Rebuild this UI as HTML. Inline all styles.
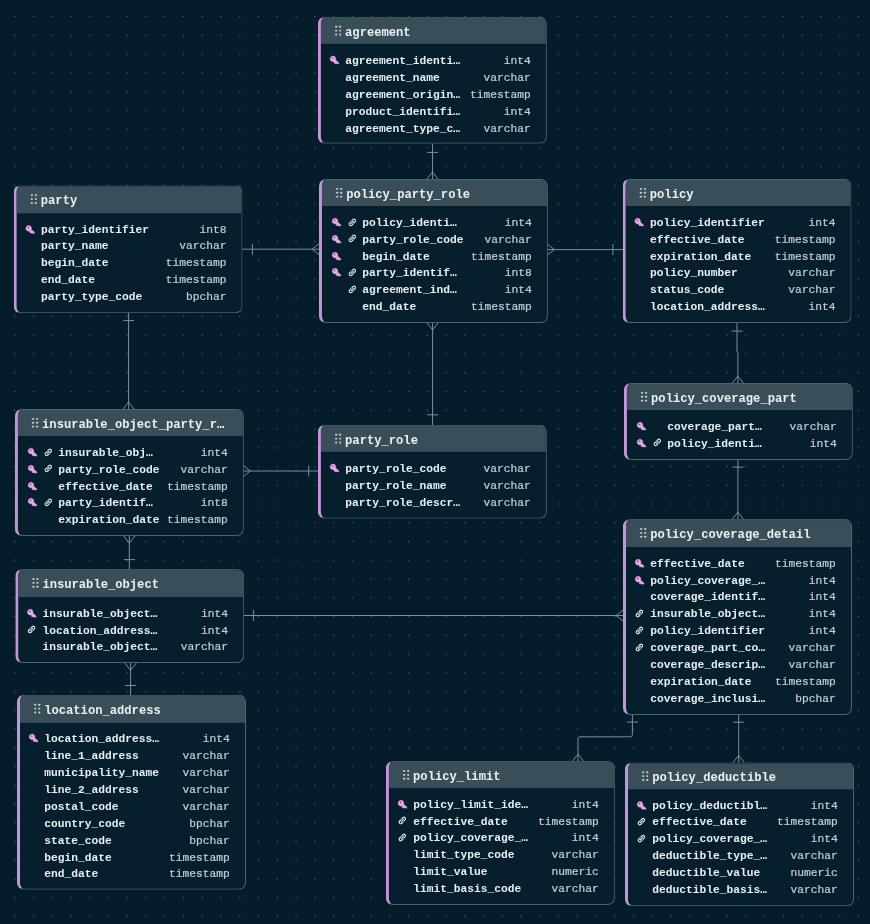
<!DOCTYPE html>
<html><head><meta charset="utf-8"><title>ERD</title>
<style>
html,body{margin:0;padding:0}
body{width:870px;height:924px;overflow:hidden;position:relative;background-color:#041d2a;
background-image:radial-gradient(circle, #4b6572 0, #4b6572 0.5px, rgba(75,101,114,0) 1.05px);
background-size:18.75px 18.75px;background-position:5.45px 7.13px;
font-family:"Liberation Mono",monospace;}
.t{position:absolute;left:0;top:0;will-change:transform;box-sizing:border-box;width:228.5px;background:#051f2c;border:1px solid #4c6470;border-left:3px solid #c694da;border-radius:7px;overflow:hidden}
.h{position:absolute;left:0;top:0;right:0;height:26.3px;background:#3a4e59}
.hn{position:absolute;left:24.2px;top:0;line-height:31.3px;font-size:12.15px;font-weight:bold;color:#e9eff2;white-space:nowrap}
.r{position:absolute;left:-3px;right:-1px;height:16.88px;font-size:11.25px;line-height:16.88px;white-space:nowrap}
.n{position:absolute;top:0;font-weight:bold;color:#e9eff2}
.ty{position:absolute;top:0;right:15.7px;color:#c0ced5;-webkit-text-stroke:0.22px #c0ced5}
.ic{position:absolute;overflow:visible}
svg.w{position:absolute;left:0;top:0}
</style></head><body>

<svg class="w" width="870" height="924" viewBox="0 0 870 924" fill="none" stroke="#78919c" stroke-width="1">
<path d="M432.55 143.65V179.50 M427.05 152.4H438.05 M432.55 172.10L426.85 179.3M432.55 172.10L438.25 179.3 M241.60 249.20H319.45 M252.4 243.7V254.7 M312.05 249.2L319.25 243.5M312.05 249.2L319.25 254.90 M546.95 249.60H623.10 M612.9 244.1V255.1 M554.35 249.6L547.15 243.9M554.35 249.6L547.15 255.30 M432.60 322.53V425.30 M427.1 414.8H438.1 M432.6 329.93L426.90 322.73M432.6 329.93L438.3 322.73 M128.60 312.65V409.50 M123.1 320.6H134.1 M128.6 402.1L122.90 409.3M128.6 402.1L134.30 409.3 M242.90 471.00H318.40 M308.7 465.5V476.5 M250.30 471.0L243.1 465.3M250.30 471.0L243.1 476.7 M129.30 535.65V569.60 M123.80 559.6H134.8 M129.3 543.05L123.60 535.85M129.3 543.05L135.0 535.85 M130.60 662.89V695.30 M125.1 685.5H136.1 M130.6 670.29L124.90 663.09M130.6 670.29L136.30 663.09 M243.20 615.50H623.50 M253.4 610.0V621.0 M616.10 615.5L623.3 609.8M616.10 615.5L623.3 621.2 M737 322.53V351.5L737.9 352.5V383.50 M731.5 331.1H742.5 M737.9 376.1L732.20 383.3M737.9 376.1L743.6 383.3 M737.90 459.01V519.60 M732.4 467.1H743.4 M737.9 512.20L732.20 519.4M737.9 512.20L743.6 519.4 M632.4 714.17V734.8Q632.4 736.8 630.4 736.8H580Q578 736.8 578 738.8V761.60 M626.9 722.1H637.9 M578 754.20L572.3 761.4M578 754.20L583.7 761.4 M738.70 714.17V762.80 M733.2 722.2H744.2 M738.7 755.40L733.0 762.60M738.7 755.40L744.40 762.60"/>
</svg>
<div class="t" style="transform:translate(317.9px,16.8px);height:127.35px">
<div class="h" style="height:26.20px"><svg class="ic" style="left:13.5px;top:7.7px" width="6.5" height="9.6" viewBox="0 0 5.4 8.8" fill="#c3cfd4"><rect x="0" y="0" width="1.7" height="1.7" rx="0.4"/><rect x="0" y="3.55" width="1.7" height="1.7" rx="0.4"/><rect x="0" y="7.1" width="1.7" height="1.7" rx="0.4"/><rect x="3.7" y="0" width="1.7" height="1.7" rx="0.4"/><rect x="3.7" y="3.55" width="1.7" height="1.7" rx="0.4"/><rect x="3.7" y="7.1" width="1.7" height="1.7" rx="0.4"/></svg><span class="hn">agreement</span></div>
<div class="r" style="top:35.0px">
<svg class="ic" style="left:11.8px;top:3.0px" width="9.3" height="8.4" viewBox="0 0 9.3 8.4"><path fill="#e9a4ec" fill-rule="evenodd" stroke="#e9a4ec" stroke-width="0.4" stroke-linejoin="round" d="M3.1 0.2a2.9 2.9 0 1 0 0.9 5.66L4.5 7.7L8.9 8.1L9.0 6.9L5.75 4.1A2.9 2.9 0 0 0 3.1 0.2zM2.6 1.45a0.8 0.8 0 1 1 0 1.6a0.8 0.8 0 0 1 0-1.6z"/></svg>
<span class="n" style="left:27.3px">agreement_identi…</span><span class="ty">int4</span></div>
<div class="r" style="top:51.879999999999995px">
<span class="n" style="left:27.3px">agreement_name</span><span class="ty">varchar</span></div>
<div class="r" style="top:68.75999999999999px">
<span class="n" style="left:27.3px">agreement_origin…</span><span class="ty">timestamp</span></div>
<div class="r" style="top:85.64px">
<span class="n" style="left:27.3px">product_identifi…</span><span class="ty">int4</span></div>
<div class="r" style="top:102.52px">
<span class="n" style="left:27.3px">agreement_type_c…</span><span class="ty">varchar</span></div>
</div>
<div class="t" style="transform:translate(13.6px,185.3px);height:127.85px">
<div class="h" style="height:26.70px"><svg class="ic" style="left:13.5px;top:7.7px" width="6.5" height="9.6" viewBox="0 0 5.4 8.8" fill="#c3cfd4"><rect x="0" y="0" width="1.7" height="1.7" rx="0.4"/><rect x="0" y="3.55" width="1.7" height="1.7" rx="0.4"/><rect x="0" y="7.1" width="1.7" height="1.7" rx="0.4"/><rect x="3.7" y="0" width="1.7" height="1.7" rx="0.4"/><rect x="3.7" y="3.55" width="1.7" height="1.7" rx="0.4"/><rect x="3.7" y="7.1" width="1.7" height="1.7" rx="0.4"/></svg><span class="hn">party</span></div>
<div class="r" style="top:35.499999999999986px">
<svg class="ic" style="left:11.8px;top:3.0px" width="9.3" height="8.4" viewBox="0 0 9.3 8.4"><path fill="#e9a4ec" fill-rule="evenodd" stroke="#e9a4ec" stroke-width="0.4" stroke-linejoin="round" d="M3.1 0.2a2.9 2.9 0 1 0 0.9 5.66L4.5 7.7L8.9 8.1L9.0 6.9L5.75 4.1A2.9 2.9 0 0 0 3.1 0.2zM2.6 1.45a0.8 0.8 0 1 1 0 1.6a0.8 0.8 0 0 1 0-1.6z"/></svg>
<span class="n" style="left:27.3px">party_identifier</span><span class="ty">int8</span></div>
<div class="r" style="top:52.37999999999998px">
<span class="n" style="left:27.3px">party_name</span><span class="ty">varchar</span></div>
<div class="r" style="top:69.25999999999999px">
<span class="n" style="left:27.3px">begin_date</span><span class="ty">timestamp</span></div>
<div class="r" style="top:86.13999999999999px">
<span class="n" style="left:27.3px">end_date</span><span class="ty">timestamp</span></div>
<div class="r" style="top:103.01999999999998px">
<span class="n" style="left:27.3px">party_type_code</span><span class="ty">bpchar</span></div>
</div>
<div class="t" style="transform:translate(318.95px,179.0px);height:144.03px">
<div class="h" style="height:26.00px"><svg class="ic" style="left:13.5px;top:7.7px" width="6.5" height="9.6" viewBox="0 0 5.4 8.8" fill="#c3cfd4"><rect x="0" y="0" width="1.7" height="1.7" rx="0.4"/><rect x="0" y="3.55" width="1.7" height="1.7" rx="0.4"/><rect x="0" y="7.1" width="1.7" height="1.7" rx="0.4"/><rect x="3.7" y="0" width="1.7" height="1.7" rx="0.4"/><rect x="3.7" y="3.55" width="1.7" height="1.7" rx="0.4"/><rect x="3.7" y="7.1" width="1.7" height="1.7" rx="0.4"/></svg><span class="hn">policy_party_role</span></div>
<div class="r" style="top:34.8px">
<svg class="ic" style="left:12.9px;top:3.0px" width="9.3" height="8.4" viewBox="0 0 9.3 8.4"><path fill="#e9a4ec" fill-rule="evenodd" stroke="#e9a4ec" stroke-width="0.4" stroke-linejoin="round" d="M3.1 0.2a2.9 2.9 0 1 0 0.9 5.66L4.5 7.7L8.9 8.1L9.0 6.9L5.75 4.1A2.9 2.9 0 0 0 3.1 0.2zM2.6 1.45a0.8 0.8 0 1 1 0 1.6a0.8 0.8 0 0 1 0-1.6z"/></svg>
<svg class="ic" style="left:28.6px;top:2.8px" width="8.8" height="8.8" viewBox="0 0 10 10" fill="none" stroke="#dde7ec" stroke-width="1.3" stroke-linecap="round"><path d="M4.3 3.2l1.3-1.3a1.75 1.75 0 0 1 2.5 2.5L6.8 5.7"/><path d="M5.7 6.8L4.4 8.1a1.75 1.75 0 0 1-2.5-2.5l1.3-1.3"/><path d="M3.8 6.2l2.4-2.4"/></svg>
<span class="n" style="left:43.4px">policy_identi…</span><span class="ty">int4</span></div>
<div class="r" style="top:51.67999999999999px">
<svg class="ic" style="left:12.9px;top:3.0px" width="9.3" height="8.4" viewBox="0 0 9.3 8.4"><path fill="#e9a4ec" fill-rule="evenodd" stroke="#e9a4ec" stroke-width="0.4" stroke-linejoin="round" d="M3.1 0.2a2.9 2.9 0 1 0 0.9 5.66L4.5 7.7L8.9 8.1L9.0 6.9L5.75 4.1A2.9 2.9 0 0 0 3.1 0.2zM2.6 1.45a0.8 0.8 0 1 1 0 1.6a0.8 0.8 0 0 1 0-1.6z"/></svg>
<svg class="ic" style="left:28.6px;top:2.8px" width="8.8" height="8.8" viewBox="0 0 10 10" fill="none" stroke="#dde7ec" stroke-width="1.3" stroke-linecap="round"><path d="M4.3 3.2l1.3-1.3a1.75 1.75 0 0 1 2.5 2.5L6.8 5.7"/><path d="M5.7 6.8L4.4 8.1a1.75 1.75 0 0 1-2.5-2.5l1.3-1.3"/><path d="M3.8 6.2l2.4-2.4"/></svg>
<span class="n" style="left:43.4px">party_role_code</span><span class="ty">varchar</span></div>
<div class="r" style="top:68.56px">
<svg class="ic" style="left:12.9px;top:3.0px" width="9.3" height="8.4" viewBox="0 0 9.3 8.4"><path fill="#e9a4ec" fill-rule="evenodd" stroke="#e9a4ec" stroke-width="0.4" stroke-linejoin="round" d="M3.1 0.2a2.9 2.9 0 1 0 0.9 5.66L4.5 7.7L8.9 8.1L9.0 6.9L5.75 4.1A2.9 2.9 0 0 0 3.1 0.2zM2.6 1.45a0.8 0.8 0 1 1 0 1.6a0.8 0.8 0 0 1 0-1.6z"/></svg>
<span class="n" style="left:43.4px">begin_date</span><span class="ty">timestamp</span></div>
<div class="r" style="top:85.44px">
<svg class="ic" style="left:12.9px;top:3.0px" width="9.3" height="8.4" viewBox="0 0 9.3 8.4"><path fill="#e9a4ec" fill-rule="evenodd" stroke="#e9a4ec" stroke-width="0.4" stroke-linejoin="round" d="M3.1 0.2a2.9 2.9 0 1 0 0.9 5.66L4.5 7.7L8.9 8.1L9.0 6.9L5.75 4.1A2.9 2.9 0 0 0 3.1 0.2zM2.6 1.45a0.8 0.8 0 1 1 0 1.6a0.8 0.8 0 0 1 0-1.6z"/></svg>
<svg class="ic" style="left:28.6px;top:2.8px" width="8.8" height="8.8" viewBox="0 0 10 10" fill="none" stroke="#dde7ec" stroke-width="1.3" stroke-linecap="round"><path d="M4.3 3.2l1.3-1.3a1.75 1.75 0 0 1 2.5 2.5L6.8 5.7"/><path d="M5.7 6.8L4.4 8.1a1.75 1.75 0 0 1-2.5-2.5l1.3-1.3"/><path d="M3.8 6.2l2.4-2.4"/></svg>
<span class="n" style="left:43.4px">party_identif…</span><span class="ty">int8</span></div>
<div class="r" style="top:102.32px">
<svg class="ic" style="left:28.6px;top:2.8px" width="8.8" height="8.8" viewBox="0 0 10 10" fill="none" stroke="#dde7ec" stroke-width="1.3" stroke-linecap="round"><path d="M4.3 3.2l1.3-1.3a1.75 1.75 0 0 1 2.5 2.5L6.8 5.7"/><path d="M5.7 6.8L4.4 8.1a1.75 1.75 0 0 1-2.5-2.5l1.3-1.3"/><path d="M3.8 6.2l2.4-2.4"/></svg>
<span class="n" style="left:43.4px">agreement_ind…</span><span class="ty">int4</span></div>
<div class="r" style="top:119.19999999999999px">
<span class="n" style="left:43.4px">end_date</span><span class="ty">timestamp</span></div>
</div>
<div class="t" style="transform:translate(622.6px,179.0px);height:144.03px">
<div class="h" style="height:26.00px"><svg class="ic" style="left:13.5px;top:7.7px" width="6.5" height="9.6" viewBox="0 0 5.4 8.8" fill="#c3cfd4"><rect x="0" y="0" width="1.7" height="1.7" rx="0.4"/><rect x="0" y="3.55" width="1.7" height="1.7" rx="0.4"/><rect x="0" y="7.1" width="1.7" height="1.7" rx="0.4"/><rect x="3.7" y="0" width="1.7" height="1.7" rx="0.4"/><rect x="3.7" y="3.55" width="1.7" height="1.7" rx="0.4"/><rect x="3.7" y="7.1" width="1.7" height="1.7" rx="0.4"/></svg><span class="hn">policy</span></div>
<div class="r" style="top:34.8px">
<svg class="ic" style="left:11.8px;top:3.0px" width="9.3" height="8.4" viewBox="0 0 9.3 8.4"><path fill="#e9a4ec" fill-rule="evenodd" stroke="#e9a4ec" stroke-width="0.4" stroke-linejoin="round" d="M3.1 0.2a2.9 2.9 0 1 0 0.9 5.66L4.5 7.7L8.9 8.1L9.0 6.9L5.75 4.1A2.9 2.9 0 0 0 3.1 0.2zM2.6 1.45a0.8 0.8 0 1 1 0 1.6a0.8 0.8 0 0 1 0-1.6z"/></svg>
<span class="n" style="left:27.3px">policy_identifier</span><span class="ty">int4</span></div>
<div class="r" style="top:51.67999999999999px">
<span class="n" style="left:27.3px">effective_date</span><span class="ty">timestamp</span></div>
<div class="r" style="top:68.56px">
<span class="n" style="left:27.3px">expiration_date</span><span class="ty">timestamp</span></div>
<div class="r" style="top:85.44px">
<span class="n" style="left:27.3px">policy_number</span><span class="ty">varchar</span></div>
<div class="r" style="top:102.32px">
<span class="n" style="left:27.3px">status_code</span><span class="ty">varchar</span></div>
<div class="r" style="top:119.19999999999999px">
<span class="n" style="left:27.3px">location_address…</span><span class="ty">int4</span></div>
</div>
<div class="t" style="transform:translate(14.9px,409.0px);height:127.15px">
<div class="h" style="height:26.00px"><svg class="ic" style="left:13.5px;top:7.7px" width="6.5" height="9.6" viewBox="0 0 5.4 8.8" fill="#c3cfd4"><rect x="0" y="0" width="1.7" height="1.7" rx="0.4"/><rect x="0" y="3.55" width="1.7" height="1.7" rx="0.4"/><rect x="0" y="7.1" width="1.7" height="1.7" rx="0.4"/><rect x="3.7" y="0" width="1.7" height="1.7" rx="0.4"/><rect x="3.7" y="3.55" width="1.7" height="1.7" rx="0.4"/><rect x="3.7" y="7.1" width="1.7" height="1.7" rx="0.4"/></svg><span class="hn">insurable_object_party_r…</span></div>
<div class="r" style="top:34.8px">
<svg class="ic" style="left:12.9px;top:3.0px" width="9.3" height="8.4" viewBox="0 0 9.3 8.4"><path fill="#e9a4ec" fill-rule="evenodd" stroke="#e9a4ec" stroke-width="0.4" stroke-linejoin="round" d="M3.1 0.2a2.9 2.9 0 1 0 0.9 5.66L4.5 7.7L8.9 8.1L9.0 6.9L5.75 4.1A2.9 2.9 0 0 0 3.1 0.2zM2.6 1.45a0.8 0.8 0 1 1 0 1.6a0.8 0.8 0 0 1 0-1.6z"/></svg>
<svg class="ic" style="left:28.6px;top:2.8px" width="8.8" height="8.8" viewBox="0 0 10 10" fill="none" stroke="#dde7ec" stroke-width="1.3" stroke-linecap="round"><path d="M4.3 3.2l1.3-1.3a1.75 1.75 0 0 1 2.5 2.5L6.8 5.7"/><path d="M5.7 6.8L4.4 8.1a1.75 1.75 0 0 1-2.5-2.5l1.3-1.3"/><path d="M3.8 6.2l2.4-2.4"/></svg>
<span class="n" style="left:43.4px">insurable_obj…</span><span class="ty">int4</span></div>
<div class="r" style="top:51.67999999999999px">
<svg class="ic" style="left:12.9px;top:3.0px" width="9.3" height="8.4" viewBox="0 0 9.3 8.4"><path fill="#e9a4ec" fill-rule="evenodd" stroke="#e9a4ec" stroke-width="0.4" stroke-linejoin="round" d="M3.1 0.2a2.9 2.9 0 1 0 0.9 5.66L4.5 7.7L8.9 8.1L9.0 6.9L5.75 4.1A2.9 2.9 0 0 0 3.1 0.2zM2.6 1.45a0.8 0.8 0 1 1 0 1.6a0.8 0.8 0 0 1 0-1.6z"/></svg>
<svg class="ic" style="left:28.6px;top:2.8px" width="8.8" height="8.8" viewBox="0 0 10 10" fill="none" stroke="#dde7ec" stroke-width="1.3" stroke-linecap="round"><path d="M4.3 3.2l1.3-1.3a1.75 1.75 0 0 1 2.5 2.5L6.8 5.7"/><path d="M5.7 6.8L4.4 8.1a1.75 1.75 0 0 1-2.5-2.5l1.3-1.3"/><path d="M3.8 6.2l2.4-2.4"/></svg>
<span class="n" style="left:43.4px">party_role_code</span><span class="ty">varchar</span></div>
<div class="r" style="top:68.56px">
<svg class="ic" style="left:12.9px;top:3.0px" width="9.3" height="8.4" viewBox="0 0 9.3 8.4"><path fill="#e9a4ec" fill-rule="evenodd" stroke="#e9a4ec" stroke-width="0.4" stroke-linejoin="round" d="M3.1 0.2a2.9 2.9 0 1 0 0.9 5.66L4.5 7.7L8.9 8.1L9.0 6.9L5.75 4.1A2.9 2.9 0 0 0 3.1 0.2zM2.6 1.45a0.8 0.8 0 1 1 0 1.6a0.8 0.8 0 0 1 0-1.6z"/></svg>
<span class="n" style="left:43.4px">effective_date</span><span class="ty">timestamp</span></div>
<div class="r" style="top:85.44px">
<svg class="ic" style="left:12.9px;top:3.0px" width="9.3" height="8.4" viewBox="0 0 9.3 8.4"><path fill="#e9a4ec" fill-rule="evenodd" stroke="#e9a4ec" stroke-width="0.4" stroke-linejoin="round" d="M3.1 0.2a2.9 2.9 0 1 0 0.9 5.66L4.5 7.7L8.9 8.1L9.0 6.9L5.75 4.1A2.9 2.9 0 0 0 3.1 0.2zM2.6 1.45a0.8 0.8 0 1 1 0 1.6a0.8 0.8 0 0 1 0-1.6z"/></svg>
<svg class="ic" style="left:28.6px;top:2.8px" width="8.8" height="8.8" viewBox="0 0 10 10" fill="none" stroke="#dde7ec" stroke-width="1.3" stroke-linecap="round"><path d="M4.3 3.2l1.3-1.3a1.75 1.75 0 0 1 2.5 2.5L6.8 5.7"/><path d="M5.7 6.8L4.4 8.1a1.75 1.75 0 0 1-2.5-2.5l1.3-1.3"/><path d="M3.8 6.2l2.4-2.4"/></svg>
<span class="n" style="left:43.4px">party_identif…</span><span class="ty">int8</span></div>
<div class="r" style="top:102.32px">
<span class="n" style="left:43.4px">expiration_date</span><span class="ty">timestamp</span></div>
</div>
<div class="t" style="transform:translate(317.9px,424.8px);height:93.59px">
<div class="h" style="height:26.20px"><svg class="ic" style="left:13.5px;top:7.7px" width="6.5" height="9.6" viewBox="0 0 5.4 8.8" fill="#c3cfd4"><rect x="0" y="0" width="1.7" height="1.7" rx="0.4"/><rect x="0" y="3.55" width="1.7" height="1.7" rx="0.4"/><rect x="0" y="7.1" width="1.7" height="1.7" rx="0.4"/><rect x="3.7" y="0" width="1.7" height="1.7" rx="0.4"/><rect x="3.7" y="3.55" width="1.7" height="1.7" rx="0.4"/><rect x="3.7" y="7.1" width="1.7" height="1.7" rx="0.4"/></svg><span class="hn">party_role</span></div>
<div class="r" style="top:34.999999999999986px">
<svg class="ic" style="left:11.8px;top:3.0px" width="9.3" height="8.4" viewBox="0 0 9.3 8.4"><path fill="#e9a4ec" fill-rule="evenodd" stroke="#e9a4ec" stroke-width="0.4" stroke-linejoin="round" d="M3.1 0.2a2.9 2.9 0 1 0 0.9 5.66L4.5 7.7L8.9 8.1L9.0 6.9L5.75 4.1A2.9 2.9 0 0 0 3.1 0.2zM2.6 1.45a0.8 0.8 0 1 1 0 1.6a0.8 0.8 0 0 1 0-1.6z"/></svg>
<span class="n" style="left:27.3px">party_role_code</span><span class="ty">varchar</span></div>
<div class="r" style="top:51.87999999999998px">
<span class="n" style="left:27.3px">party_role_name</span><span class="ty">varchar</span></div>
<div class="r" style="top:68.75999999999999px">
<span class="n" style="left:27.3px">party_role_descr…</span><span class="ty">varchar</span></div>
</div>
<div class="t" style="transform:translate(623.9px,383.0px);height:76.51px">
<div class="h" style="height:26.00px"><svg class="ic" style="left:13.5px;top:7.7px" width="6.5" height="9.6" viewBox="0 0 5.4 8.8" fill="#c3cfd4"><rect x="0" y="0" width="1.7" height="1.7" rx="0.4"/><rect x="0" y="3.55" width="1.7" height="1.7" rx="0.4"/><rect x="0" y="7.1" width="1.7" height="1.7" rx="0.4"/><rect x="3.7" y="0" width="1.7" height="1.7" rx="0.4"/><rect x="3.7" y="3.55" width="1.7" height="1.7" rx="0.4"/><rect x="3.7" y="7.1" width="1.7" height="1.7" rx="0.4"/></svg><span class="hn">policy_coverage_part</span></div>
<div class="r" style="top:34.8px">
<svg class="ic" style="left:12.9px;top:3.0px" width="9.3" height="8.4" viewBox="0 0 9.3 8.4"><path fill="#e9a4ec" fill-rule="evenodd" stroke="#e9a4ec" stroke-width="0.4" stroke-linejoin="round" d="M3.1 0.2a2.9 2.9 0 1 0 0.9 5.66L4.5 7.7L8.9 8.1L9.0 6.9L5.75 4.1A2.9 2.9 0 0 0 3.1 0.2zM2.6 1.45a0.8 0.8 0 1 1 0 1.6a0.8 0.8 0 0 1 0-1.6z"/></svg>
<span class="n" style="left:43.4px">coverage_part…</span><span class="ty">varchar</span></div>
<div class="r" style="top:51.67999999999999px">
<svg class="ic" style="left:12.9px;top:3.0px" width="9.3" height="8.4" viewBox="0 0 9.3 8.4"><path fill="#e9a4ec" fill-rule="evenodd" stroke="#e9a4ec" stroke-width="0.4" stroke-linejoin="round" d="M3.1 0.2a2.9 2.9 0 1 0 0.9 5.66L4.5 7.7L8.9 8.1L9.0 6.9L5.75 4.1A2.9 2.9 0 0 0 3.1 0.2zM2.6 1.45a0.8 0.8 0 1 1 0 1.6a0.8 0.8 0 0 1 0-1.6z"/></svg>
<svg class="ic" style="left:28.6px;top:2.8px" width="8.8" height="8.8" viewBox="0 0 10 10" fill="none" stroke="#dde7ec" stroke-width="1.3" stroke-linecap="round"><path d="M4.3 3.2l1.3-1.3a1.75 1.75 0 0 1 2.5 2.5L6.8 5.7"/><path d="M5.7 6.8L4.4 8.1a1.75 1.75 0 0 1-2.5-2.5l1.3-1.3"/><path d="M3.8 6.2l2.4-2.4"/></svg>
<span class="n" style="left:43.4px">policy_identi…</span><span class="ty">int4</span></div>
</div>
<div class="t" style="transform:translate(623.0px,519.1px);height:195.57px">
<div class="h" style="height:26.90px"><svg class="ic" style="left:13.5px;top:7.7px" width="6.5" height="9.6" viewBox="0 0 5.4 8.8" fill="#c3cfd4"><rect x="0" y="0" width="1.7" height="1.7" rx="0.4"/><rect x="0" y="3.55" width="1.7" height="1.7" rx="0.4"/><rect x="0" y="7.1" width="1.7" height="1.7" rx="0.4"/><rect x="3.7" y="0" width="1.7" height="1.7" rx="0.4"/><rect x="3.7" y="3.55" width="1.7" height="1.7" rx="0.4"/><rect x="3.7" y="7.1" width="1.7" height="1.7" rx="0.4"/></svg><span class="hn">policy_coverage_detail</span></div>
<div class="r" style="top:35.699999999999974px">
<svg class="ic" style="left:11.8px;top:3.0px" width="9.3" height="8.4" viewBox="0 0 9.3 8.4"><path fill="#e9a4ec" fill-rule="evenodd" stroke="#e9a4ec" stroke-width="0.4" stroke-linejoin="round" d="M3.1 0.2a2.9 2.9 0 1 0 0.9 5.66L4.5 7.7L8.9 8.1L9.0 6.9L5.75 4.1A2.9 2.9 0 0 0 3.1 0.2zM2.6 1.45a0.8 0.8 0 1 1 0 1.6a0.8 0.8 0 0 1 0-1.6z"/></svg>
<span class="n" style="left:27.3px">effective_date</span><span class="ty">timestamp</span></div>
<div class="r" style="top:52.57999999999997px">
<svg class="ic" style="left:11.8px;top:3.0px" width="9.3" height="8.4" viewBox="0 0 9.3 8.4"><path fill="#e9a4ec" fill-rule="evenodd" stroke="#e9a4ec" stroke-width="0.4" stroke-linejoin="round" d="M3.1 0.2a2.9 2.9 0 1 0 0.9 5.66L4.5 7.7L8.9 8.1L9.0 6.9L5.75 4.1A2.9 2.9 0 0 0 3.1 0.2zM2.6 1.45a0.8 0.8 0 1 1 0 1.6a0.8 0.8 0 0 1 0-1.6z"/></svg>
<span class="n" style="left:27.3px">policy_coverage_…</span><span class="ty">int4</span></div>
<div class="r" style="top:69.45999999999998px">
<span class="n" style="left:27.3px">coverage_identif…</span><span class="ty">int4</span></div>
<div class="r" style="top:86.33999999999997px">
<svg class="ic" style="left:11.6px;top:2.8px" width="8.8" height="8.8" viewBox="0 0 10 10" fill="none" stroke="#dde7ec" stroke-width="1.3" stroke-linecap="round"><path d="M4.3 3.2l1.3-1.3a1.75 1.75 0 0 1 2.5 2.5L6.8 5.7"/><path d="M5.7 6.8L4.4 8.1a1.75 1.75 0 0 1-2.5-2.5l1.3-1.3"/><path d="M3.8 6.2l2.4-2.4"/></svg>
<span class="n" style="left:27.3px">insurable_object…</span><span class="ty">int4</span></div>
<div class="r" style="top:103.21999999999997px">
<svg class="ic" style="left:11.6px;top:2.8px" width="8.8" height="8.8" viewBox="0 0 10 10" fill="none" stroke="#dde7ec" stroke-width="1.3" stroke-linecap="round"><path d="M4.3 3.2l1.3-1.3a1.75 1.75 0 0 1 2.5 2.5L6.8 5.7"/><path d="M5.7 6.8L4.4 8.1a1.75 1.75 0 0 1-2.5-2.5l1.3-1.3"/><path d="M3.8 6.2l2.4-2.4"/></svg>
<span class="n" style="left:27.3px">policy_identifier</span><span class="ty">int4</span></div>
<div class="r" style="top:120.09999999999997px">
<svg class="ic" style="left:11.6px;top:2.8px" width="8.8" height="8.8" viewBox="0 0 10 10" fill="none" stroke="#dde7ec" stroke-width="1.3" stroke-linecap="round"><path d="M4.3 3.2l1.3-1.3a1.75 1.75 0 0 1 2.5 2.5L6.8 5.7"/><path d="M5.7 6.8L4.4 8.1a1.75 1.75 0 0 1-2.5-2.5l1.3-1.3"/><path d="M3.8 6.2l2.4-2.4"/></svg>
<span class="n" style="left:27.3px">coverage_part_co…</span><span class="ty">varchar</span></div>
<div class="r" style="top:136.97999999999996px">
<span class="n" style="left:27.3px">coverage_descrip…</span><span class="ty">varchar</span></div>
<div class="r" style="top:153.85999999999996px">
<span class="n" style="left:27.3px">expiration_date</span><span class="ty">timestamp</span></div>
<div class="r" style="top:170.73999999999995px">
<span class="n" style="left:27.3px">coverage_inclusi…</span><span class="ty">bpchar</span></div>
</div>
<div class="t" style="transform:translate(15.2px,569.1px);height:94.29px">
<div class="h" style="height:26.90px"><svg class="ic" style="left:13.5px;top:7.7px" width="6.5" height="9.6" viewBox="0 0 5.4 8.8" fill="#c3cfd4"><rect x="0" y="0" width="1.7" height="1.7" rx="0.4"/><rect x="0" y="3.55" width="1.7" height="1.7" rx="0.4"/><rect x="0" y="7.1" width="1.7" height="1.7" rx="0.4"/><rect x="3.7" y="0" width="1.7" height="1.7" rx="0.4"/><rect x="3.7" y="3.55" width="1.7" height="1.7" rx="0.4"/><rect x="3.7" y="7.1" width="1.7" height="1.7" rx="0.4"/></svg><span class="hn">insurable_object</span></div>
<div class="r" style="top:35.699999999999974px">
<svg class="ic" style="left:11.8px;top:3.0px" width="9.3" height="8.4" viewBox="0 0 9.3 8.4"><path fill="#e9a4ec" fill-rule="evenodd" stroke="#e9a4ec" stroke-width="0.4" stroke-linejoin="round" d="M3.1 0.2a2.9 2.9 0 1 0 0.9 5.66L4.5 7.7L8.9 8.1L9.0 6.9L5.75 4.1A2.9 2.9 0 0 0 3.1 0.2zM2.6 1.45a0.8 0.8 0 1 1 0 1.6a0.8 0.8 0 0 1 0-1.6z"/></svg>
<span class="n" style="left:27.3px">insurable_object…</span><span class="ty">int4</span></div>
<div class="r" style="top:52.57999999999997px">
<svg class="ic" style="left:11.6px;top:2.8px" width="8.8" height="8.8" viewBox="0 0 10 10" fill="none" stroke="#dde7ec" stroke-width="1.3" stroke-linecap="round"><path d="M4.3 3.2l1.3-1.3a1.75 1.75 0 0 1 2.5 2.5L6.8 5.7"/><path d="M5.7 6.8L4.4 8.1a1.75 1.75 0 0 1-2.5-2.5l1.3-1.3"/><path d="M3.8 6.2l2.4-2.4"/></svg>
<span class="n" style="left:27.3px">location_address…</span><span class="ty">int4</span></div>
<div class="r" style="top:69.45999999999998px">
<span class="n" style="left:27.3px">insurable_object…</span><span class="ty">varchar</span></div>
</div>
<div class="t" style="transform:translate(17.0px,694.8px);height:195.27px">
<div class="h" style="height:26.60px"><svg class="ic" style="left:13.5px;top:7.7px" width="6.5" height="9.6" viewBox="0 0 5.4 8.8" fill="#c3cfd4"><rect x="0" y="0" width="1.7" height="1.7" rx="0.4"/><rect x="0" y="3.55" width="1.7" height="1.7" rx="0.4"/><rect x="0" y="7.1" width="1.7" height="1.7" rx="0.4"/><rect x="3.7" y="0" width="1.7" height="1.7" rx="0.4"/><rect x="3.7" y="3.55" width="1.7" height="1.7" rx="0.4"/><rect x="3.7" y="7.1" width="1.7" height="1.7" rx="0.4"/></svg><span class="hn">location_address</span></div>
<div class="r" style="top:35.40000000000002px">
<svg class="ic" style="left:11.8px;top:3.0px" width="9.3" height="8.4" viewBox="0 0 9.3 8.4"><path fill="#e9a4ec" fill-rule="evenodd" stroke="#e9a4ec" stroke-width="0.4" stroke-linejoin="round" d="M3.1 0.2a2.9 2.9 0 1 0 0.9 5.66L4.5 7.7L8.9 8.1L9.0 6.9L5.75 4.1A2.9 2.9 0 0 0 3.1 0.2zM2.6 1.45a0.8 0.8 0 1 1 0 1.6a0.8 0.8 0 0 1 0-1.6z"/></svg>
<span class="n" style="left:27.3px">location_address…</span><span class="ty">int4</span></div>
<div class="r" style="top:52.280000000000015px">
<span class="n" style="left:27.3px">line_1_address</span><span class="ty">varchar</span></div>
<div class="r" style="top:69.16000000000003px">
<span class="n" style="left:27.3px">municipality_name</span><span class="ty">varchar</span></div>
<div class="r" style="top:86.04000000000002px">
<span class="n" style="left:27.3px">line_2_address</span><span class="ty">varchar</span></div>
<div class="r" style="top:102.92000000000002px">
<span class="n" style="left:27.3px">postal_code</span><span class="ty">varchar</span></div>
<div class="r" style="top:119.80000000000001px">
<span class="n" style="left:27.3px">country_code</span><span class="ty">bpchar</span></div>
<div class="r" style="top:136.68px">
<span class="n" style="left:27.3px">state_code</span><span class="ty">bpchar</span></div>
<div class="r" style="top:153.56px">
<span class="n" style="left:27.3px">begin_date</span><span class="ty">timestamp</span></div>
<div class="r" style="top:170.44px">
<span class="n" style="left:27.3px">end_date</span><span class="ty">timestamp</span></div>
</div>
<div class="t" style="transform:translate(385.9px,761.1px);height:143.93px">
<div class="h" style="height:25.90px"><svg class="ic" style="left:13.5px;top:7.7px" width="6.5" height="9.6" viewBox="0 0 5.4 8.8" fill="#c3cfd4"><rect x="0" y="0" width="1.7" height="1.7" rx="0.4"/><rect x="0" y="3.55" width="1.7" height="1.7" rx="0.4"/><rect x="0" y="7.1" width="1.7" height="1.7" rx="0.4"/><rect x="3.7" y="0" width="1.7" height="1.7" rx="0.4"/><rect x="3.7" y="3.55" width="1.7" height="1.7" rx="0.4"/><rect x="3.7" y="7.1" width="1.7" height="1.7" rx="0.4"/></svg><span class="hn">policy_limit</span></div>
<div class="r" style="top:34.699999999999974px">
<svg class="ic" style="left:11.8px;top:3.0px" width="9.3" height="8.4" viewBox="0 0 9.3 8.4"><path fill="#e9a4ec" fill-rule="evenodd" stroke="#e9a4ec" stroke-width="0.4" stroke-linejoin="round" d="M3.1 0.2a2.9 2.9 0 1 0 0.9 5.66L4.5 7.7L8.9 8.1L9.0 6.9L5.75 4.1A2.9 2.9 0 0 0 3.1 0.2zM2.6 1.45a0.8 0.8 0 1 1 0 1.6a0.8 0.8 0 0 1 0-1.6z"/></svg>
<span class="n" style="left:27.3px">policy_limit_ide…</span><span class="ty">int4</span></div>
<div class="r" style="top:51.57999999999997px">
<svg class="ic" style="left:11.6px;top:2.8px" width="8.8" height="8.8" viewBox="0 0 10 10" fill="none" stroke="#dde7ec" stroke-width="1.3" stroke-linecap="round"><path d="M4.3 3.2l1.3-1.3a1.75 1.75 0 0 1 2.5 2.5L6.8 5.7"/><path d="M5.7 6.8L4.4 8.1a1.75 1.75 0 0 1-2.5-2.5l1.3-1.3"/><path d="M3.8 6.2l2.4-2.4"/></svg>
<span class="n" style="left:27.3px">effective_date</span><span class="ty">timestamp</span></div>
<div class="r" style="top:68.45999999999998px">
<svg class="ic" style="left:11.6px;top:2.8px" width="8.8" height="8.8" viewBox="0 0 10 10" fill="none" stroke="#dde7ec" stroke-width="1.3" stroke-linecap="round"><path d="M4.3 3.2l1.3-1.3a1.75 1.75 0 0 1 2.5 2.5L6.8 5.7"/><path d="M5.7 6.8L4.4 8.1a1.75 1.75 0 0 1-2.5-2.5l1.3-1.3"/><path d="M3.8 6.2l2.4-2.4"/></svg>
<span class="n" style="left:27.3px">policy_coverage_…</span><span class="ty">int4</span></div>
<div class="r" style="top:85.33999999999997px">
<span class="n" style="left:27.3px">limit_type_code</span><span class="ty">varchar</span></div>
<div class="r" style="top:102.21999999999997px">
<span class="n" style="left:27.3px">limit_value</span><span class="ty">numeric</span></div>
<div class="r" style="top:119.09999999999997px">
<span class="n" style="left:27.3px">limit_basis_code</span><span class="ty">varchar</span></div>
</div>
<div class="t" style="transform:translate(625.0px,762.3px);height:143.83px">
<div class="h" style="height:25.80px"><svg class="ic" style="left:13.5px;top:7.7px" width="6.5" height="9.6" viewBox="0 0 5.4 8.8" fill="#c3cfd4"><rect x="0" y="0" width="1.7" height="1.7" rx="0.4"/><rect x="0" y="3.55" width="1.7" height="1.7" rx="0.4"/><rect x="0" y="7.1" width="1.7" height="1.7" rx="0.4"/><rect x="3.7" y="0" width="1.7" height="1.7" rx="0.4"/><rect x="3.7" y="3.55" width="1.7" height="1.7" rx="0.4"/><rect x="3.7" y="7.1" width="1.7" height="1.7" rx="0.4"/></svg><span class="hn">policy_deductible</span></div>
<div class="r" style="top:34.600000000000065px">
<svg class="ic" style="left:11.8px;top:3.0px" width="9.3" height="8.4" viewBox="0 0 9.3 8.4"><path fill="#e9a4ec" fill-rule="evenodd" stroke="#e9a4ec" stroke-width="0.4" stroke-linejoin="round" d="M3.1 0.2a2.9 2.9 0 1 0 0.9 5.66L4.5 7.7L8.9 8.1L9.0 6.9L5.75 4.1A2.9 2.9 0 0 0 3.1 0.2zM2.6 1.45a0.8 0.8 0 1 1 0 1.6a0.8 0.8 0 0 1 0-1.6z"/></svg>
<span class="n" style="left:27.3px">policy_deductibl…</span><span class="ty">int4</span></div>
<div class="r" style="top:51.48000000000006px">
<svg class="ic" style="left:11.6px;top:2.8px" width="8.8" height="8.8" viewBox="0 0 10 10" fill="none" stroke="#dde7ec" stroke-width="1.3" stroke-linecap="round"><path d="M4.3 3.2l1.3-1.3a1.75 1.75 0 0 1 2.5 2.5L6.8 5.7"/><path d="M5.7 6.8L4.4 8.1a1.75 1.75 0 0 1-2.5-2.5l1.3-1.3"/><path d="M3.8 6.2l2.4-2.4"/></svg>
<span class="n" style="left:27.3px">effective_date</span><span class="ty">timestamp</span></div>
<div class="r" style="top:68.36000000000007px">
<svg class="ic" style="left:11.6px;top:2.8px" width="8.8" height="8.8" viewBox="0 0 10 10" fill="none" stroke="#dde7ec" stroke-width="1.3" stroke-linecap="round"><path d="M4.3 3.2l1.3-1.3a1.75 1.75 0 0 1 2.5 2.5L6.8 5.7"/><path d="M5.7 6.8L4.4 8.1a1.75 1.75 0 0 1-2.5-2.5l1.3-1.3"/><path d="M3.8 6.2l2.4-2.4"/></svg>
<span class="n" style="left:27.3px">policy_coverage_…</span><span class="ty">int4</span></div>
<div class="r" style="top:85.24000000000007px">
<span class="n" style="left:27.3px">deductible_type_…</span><span class="ty">varchar</span></div>
<div class="r" style="top:102.12000000000006px">
<span class="n" style="left:27.3px">deductible_value</span><span class="ty">numeric</span></div>
<div class="r" style="top:119.00000000000006px">
<span class="n" style="left:27.3px">deductible_basis…</span><span class="ty">varchar</span></div>
</div>
</body></html>
